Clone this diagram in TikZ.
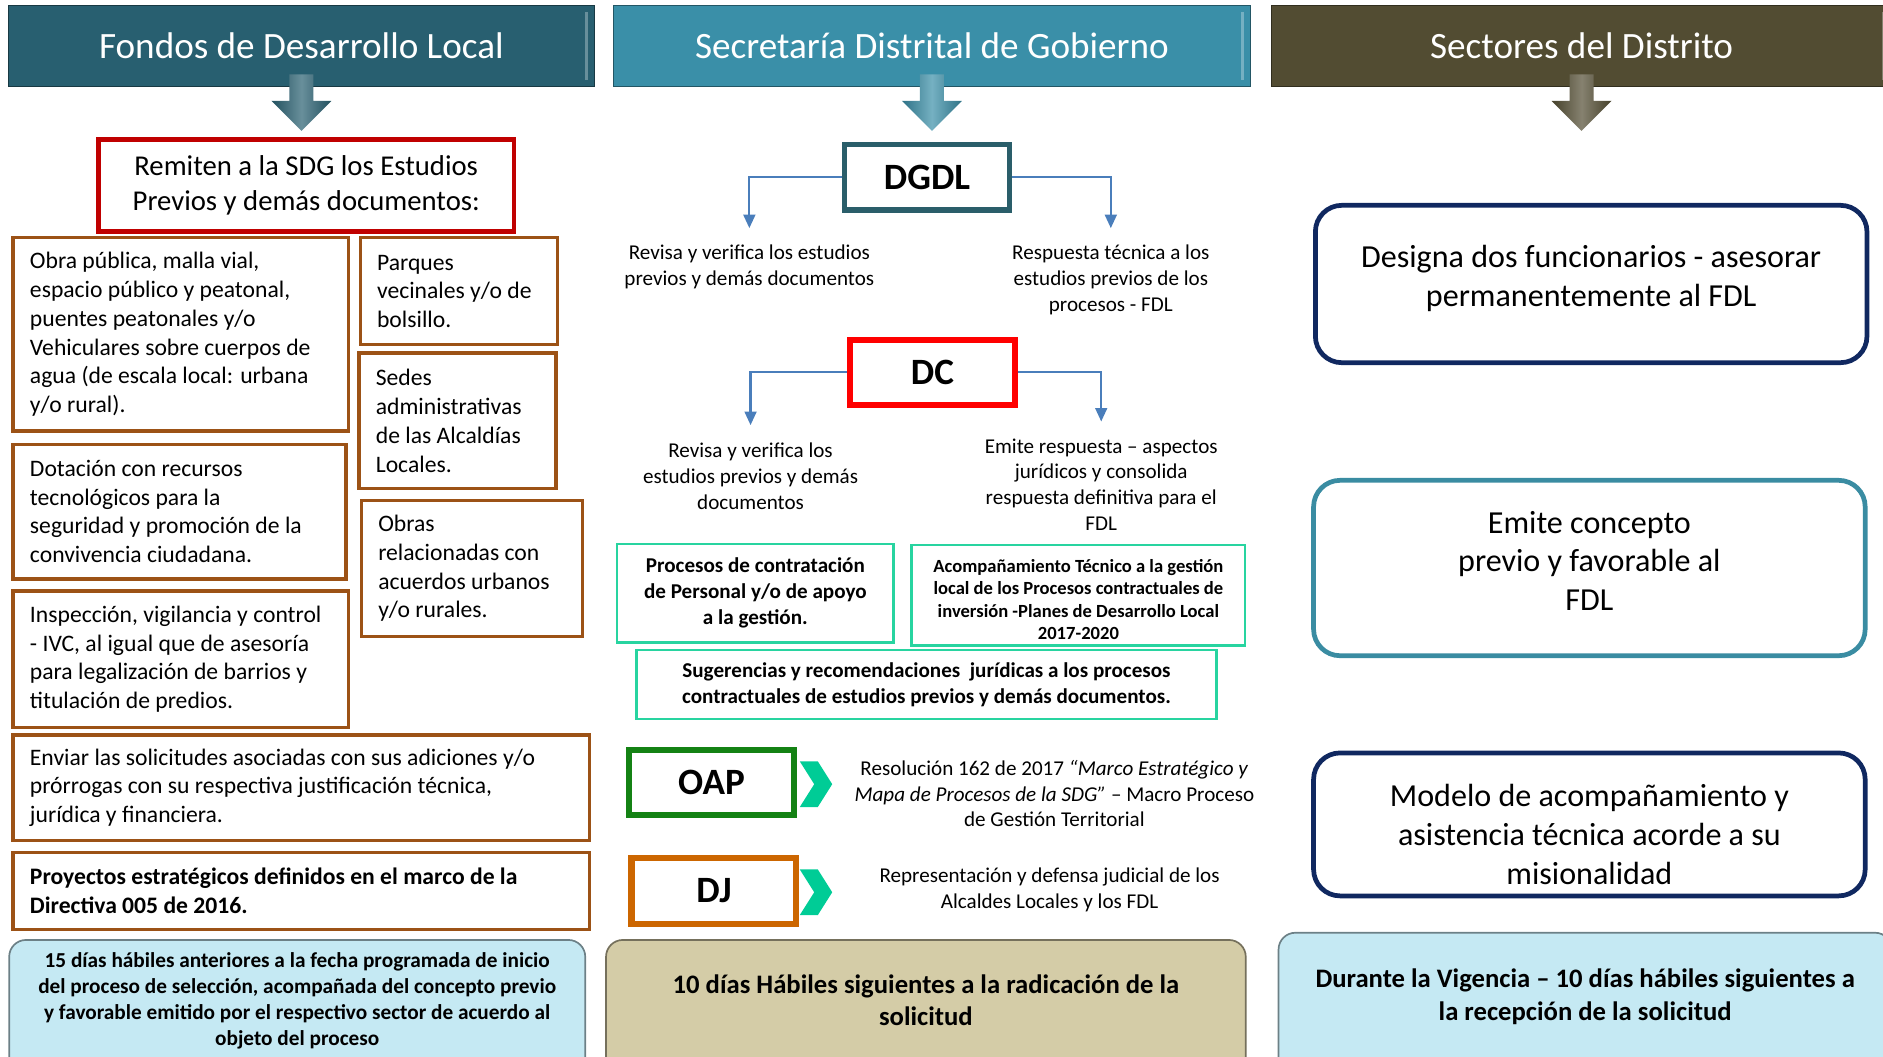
\documentclass[tikz,border=0pt]{standalone}
\usepackage{fontspec}
\setmainfont{Carlito}
\usetikzlibrary{arrows.meta,backgrounds}

\definecolor{hdrA}{RGB}{40,95,112}
\definecolor{hdrB}{RGB}{58,143,168}
\definecolor{hdrC}{RGB}{82,76,50}
\definecolor{brownline}{RGB}{156,82,22}
\definecolor{remitred}{RGB}{192,0,0}
\definecolor{dgdlline}{RGB}{42,94,106}
\definecolor{dcred}{RGB}{255,0,0}
\definecolor{arrowblue}{RGB}{74,126,187}
\definecolor{mint}{RGB}{40,212,160}
\definecolor{chevgreen}{RGB}{0,204,150}
\definecolor{oapgreen}{RGB}{20,130,20}
\definecolor{djorange}{RGB}{204,102,0}
\definecolor{navy}{RGB}{16,40,96}
\definecolor{tealline}{RGB}{58,140,162}
\definecolor{paleblue}{RGB}{197,233,243}
\definecolor{khaki}{RGB}{212,204,167}

\tikzset{
  header/.style={minimum height=1.675cm, text=white, font=\fontsize{22}{26}\selectfont,
    draw=#1!60!black, fill=#1, line width=0.6pt},
  itembox/.style={draw=brownline, line width=2pt, align=flush left, inner xsep=0.35cm,
    font=\fontsize{14}{17}\selectfont},
  unitbox/.style={draw=#1, line width=3.2pt, minimum width=3.43cm, minimum height=1.36cm,
    font=\fontsize{22}{26}\selectfont\bfseries},
  note/.style={align=center, font=\fontsize{12.5}{15.2}\selectfont},
  mintbox/.style={draw=mint, line width=1.3pt, align=center},
  sectorbox/.style={draw=#1, line width=2.8pt, rounded corners=0.55cm, minimum width=11.48cm,
    align=center, font=\fontsize{19}{23}\selectfont},
  plazo/.style={align=center, minimum height=2.5cm},
  flecha/.style={draw=arrowblue, line width=1.3pt, -{Triangle[width=7pt,length=8pt]}},
}

\begin{document}
\begin{tikzpicture}[x=0.025cm, y=-0.025cm]
\useasboundingbox (0,0) rectangle (1568,880);
\clip (0,0) rectangle (1568,880);

% headers
\node[header=hdrA, minimum width=12.2cm] (fdl) at (251,38.5) {Fondos de Desarrollo Local};
\node[header=hdrB, minimum width=13.25cm] (sdg) at (776,38.5) {Secretaría Distrital de Gobierno};
\node[header=hdrC, minimum width=12.9cm] (sec) at (1317,38.5) {Sectores del Distrito};
\foreach \h in {fdl,sdg,sec}
  \draw[white, opacity=0.3, line width=1.5pt] ([xshift=-5pt,yshift=-4pt]\h.north east) -- ([xshift=-5pt,yshift=4pt]\h.south east);

% down arrows
\shade[left color=hdrA!85!black, right color=hdrA!85!black, middle color=hdrA!70!white]
  (241,62) -- (261,62) -- (261,84) -- (276,84) -- (251,109) -- (226,84) -- (241,84) -- cycle;
\shade[left color=hdrB!80!black, right color=hdrB!80!black, middle color=hdrB!70!white]
  (766,62) -- (786,62) -- (786,84) -- (801,84) -- (776,109) -- (751,84) -- (766,84) -- cycle;
\shade[left color=hdrC!85!black, right color=hdrC!85!black, middle color=hdrC!70!white]
  (1307,62) -- (1327,62) -- (1327,84) -- (1342,84) -- (1317,109) -- (1292,84) -- (1307,84) -- cycle;

% Fondos de Desarrollo Local
\node[draw=remitred, line width=2.8pt, minimum width=8.65cm, minimum height=1.925cm, align=center,
  font=\fontsize{17}{20.6}\selectfont] (remit) at (255,154.5)
  {Remiten a la SDG los Estudios\\Previos y demás documentos:};
\node[itembox, text width=6.275cm, minimum height=4.025cm] (obra) at (150.5,278.5)
  {Obra pública, malla vial,\\espacio público y peatonal,\\puentes peatonales y/o\\Vehiculares sobre cuerpos de\\agua (de escala local: urbana\\y/o rural).};
\node[itembox, text width=3.4cm, minimum height=2.225cm] (parq) at (382,242.5)
  {Parques\\vecinales y/o de\\bolsillo.};
\node[itembox, text width=3.4cm, minimum height=2.825cm] (sedes) at (381,350.5)
  {Sedes\\administrativas\\de las Alcaldías\\Locales.};
\node[itembox, text width=6.225cm, minimum height=2.8cm] (dota) at (149.5,426)
  {Dotación con recursos\\tecnológicos para la\\seguridad y promoción de la\\convivencia ciudadana.};
\node[itembox, text width=3.9cm, minimum height=2.825cm] (obras) at (393,473.5)
  {Obras\\relacionadas con\\acuerdos urbanos\\y/o rurales.};
\node[itembox, text width=6.275cm, minimum height=2.85cm] (insp) at (150.5,549)
  {Inspección, vigilancia y control\\- IVC, al igual que de asesoría\\para legalización de barrios y\\titulación de predios.};
\node[itembox, text width=11.3cm, minimum height=2.2cm] (envi) at (251,656)
  {Enviar las solicitudes asociadas con sus adiciones y/o\\prórrogas con su respectiva justificación técnica,\\jurídica y financiera.};
\node[itembox, text width=11.3cm, minimum height=1.6cm, font=\fontsize{14}{17}\selectfont\bfseries] (proy) at (251,742)
  {Proyectos estratégicos definidos en el marco de la\\Directiva 005 de 2016.};

% Secretaria Distrital de Gobierno
\node[unitbox=dgdlline] (dgdl) at (772,147.5) {DGDL};
\coordinate (tA) at (624,190);
\coordinate (tB) at (925,190);
\draw[flecha] (dgdl.west) -| (tA);
\draw[flecha] (dgdl.east) -| (tB);
\node[note] (revA) at (624,222) {Revisa y verifica los estudios\\previos y demás documentos};
\node[note] (resA) at (925,233) {Respuesta técnica a los\\estudios previos de los\\procesos - FDL};

\node[unitbox=dcred, line width=3.6pt] (dc) at (776.5,310) {DC};
\coordinate (tC) at (625,354);
\coordinate (tD) at (917,351);
\draw[flecha] (dc.west) -| (tC);
\draw[flecha] (dc.east) -| (tD);
\node[note] (revB) at (625,396.5) {Revisa y verifica los\\estudios previos y demás\\documentos};
\node[note] (emit) at (917,403.5) {Emite respuesta – aspectos\\jurídicos y consolida\\respuesta definitiva para el\\FDL};

\node[mintbox, minimum width=5.75cm, minimum height=2.05cm, font=\fontsize{12.5}{15.4}\selectfont\bfseries] (proc) at (629,494)
  {Procesos de contratación\\de Personal y/o de apoyo\\a la gestión.};
\node[mintbox, minimum width=6.95cm, minimum height=2.025cm, font=\fontsize{11}{13.3}\selectfont\bfseries] (acom) at (898,495.5)
  {\rule{0pt}{13pt}Acompañamiento Técnico a la gestión\\local de los Procesos contractuales de\\inversión -Planes de Desarrollo Local\\2017-2020};
\node[mintbox, minimum width=12.075cm, minimum height=1.45cm, font=\fontsize{12.5}{15.4}\selectfont\bfseries] (suge) at (771.5,570)
  {Sugerencias y recomendaciones\ \ jurídicas a los procesos\\contractuales de estudios previos y demás documentos.};

\node[unitbox=oapgreen, line width=3.6pt] (oap) at (592.5,651.5) {OAP};
\fill[chevgreen] (666,634) -- (681,634) -- (693,653) -- (681,672) -- (666,672) -- (678,653) -- cycle;
\node[note] (oaptx) at (878,661)
  {Resolución 162 de 2017 \textit{“Marco Estratégico y}\\\textit{Mapa de Procesos de la SDG”} – Macro Proceso\\de Gestión Territorial};

\node[unitbox=djorange, line width=3.6pt] (dj) at (594.5,742) {DJ};
\fill[chevgreen] (666,724) -- (681,724) -- (693,743) -- (681,762) -- (666,762) -- (678,743) -- cycle;
\node[note] (djtx) at (874,741) {Representación y defensa judicial de los\\Alcaldes Locales y los FDL};

% Sectores del Distrito
\node[sectorbox=navy, minimum height=3.275cm] (desig) at (1325,236.5)
  {Designa dos funcionarios - asesorar\\permanentemente al FDL\rule[-9.7pt]{0pt}{0pt}};
\node[sectorbox=tealline, minimum height=3.65cm] (emite) at (1323.5,473)
  {Emite concepto\\previo y favorable al\\FDL\rule[-8.5pt]{0pt}{0pt}};
\node[sectorbox=navy, minimum height=2.975cm] (model) at (1323.5,686.5)
  {\rule{0pt}{25.5pt}Modelo de acompañamiento y\\asistencia técnica acorde a su\\misionalidad};

% plazos
\node[plazo, minimum width=11.975cm, font=\fontsize{12.6}{15.4}\selectfont\bfseries] (plA) at (247.5,833)
  {15 días hábiles anteriores a la fecha programada de inicio\\del proceso de selección, acompañada del concepto previo\\y favorable emitido por el respectivo sector de acuerdo al\\objeto del proceso};
\node[plazo, minimum width=13.3cm, font=\fontsize{15.8}{19}\selectfont\bfseries] (plB) at (771,833)
  {10 días Hábiles siguientes a la radicación de la\\solicitud};
\node[plazo, minimum width=12.75cm, minimum height=2.65cm, font=\fontsize{15.8}{19}\selectfont\bfseries] (plC) at (1320,830)
  {Durante la Vigencia – 10 días hábiles siguientes a\\la recepción de la solicitud};

\begin{scope}[on background layer]
\foreach \p/\c in {plA/paleblue, plB/khaki, plC/paleblue} {
  \fill[\c, rounded corners=0.35cm] (\p.south west) -- (\p.north west) -- (\p.north east) -- (\p.south east);
  \draw[\c!55!black, line width=1pt, rounded corners=0.35cm] (\p.south west) -- (\p.north west) -- (\p.north east) -- (\p.south east);
}
\end{scope}
\end{tikzpicture}
\end{document}
